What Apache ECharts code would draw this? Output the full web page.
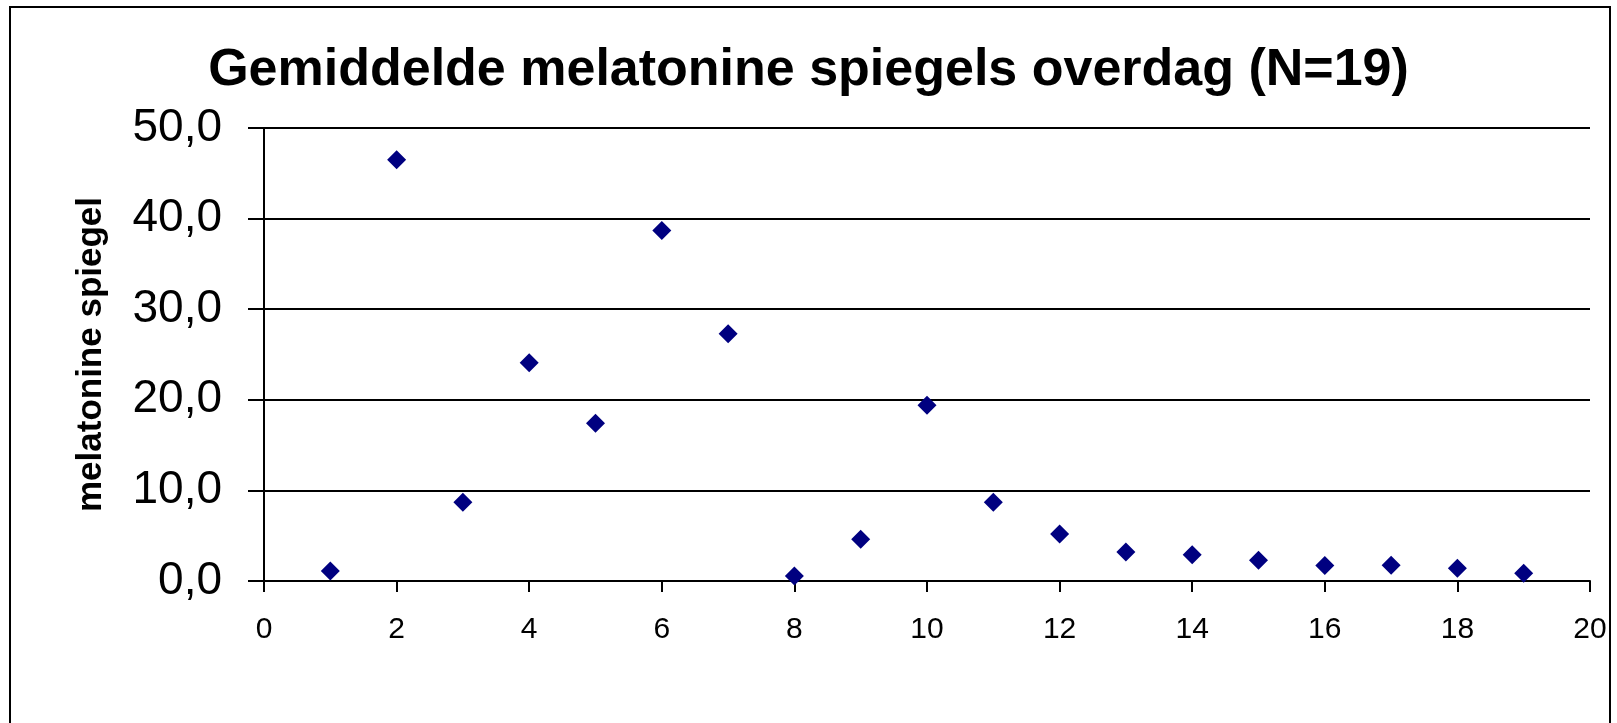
<!DOCTYPE html>
<html>
<head>
<meta charset="utf-8">
<script src="https://cdn.jsdelivr.net/npm/echarts@6/dist/echarts.min.js"></script>
<style>
html,body{margin:0;padding:0;background:#fff;}
#chart{width:1617px;height:723px;}
</style>
</head>
<body>
<div id="chart"></div>
<script>
var titleText = 'Gemiddelde melatonine spiegels overdag (N=19)';
var yAxisName = 'melatonine spiegel';
var xValues = [1, 2, 3, 4, 5, 6, 7, 8, 9, 10, 11, 12, 13, 14, 15, 16, 17, 18, 19];
var yValues = [1.1, 46.5, 8.7, 24.1, 17.4, 38.7, 27.3, 0.55, 4.6, 19.4, 8.7, 5.2, 3.2, 2.9, 2.3, 1.7, 1.75, 1.4, 0.85];
var xMin = 0, xMax = 20, xStep = 2;
var yMin = 0, yMax = 50, yStep = 10;

var points = xValues.map(function (x, i) { return [x, yValues[i]]; });
var font = '"Liberation Sans", Arial, sans-serif';

var chart = echarts.init(document.getElementById('chart'));
chart.setOption({
  animation: false,
  backgroundColor: '#ffffff',
  title: {
    text: titleText,
    left: 'center',
    top: 40,
    textStyle: { fontFamily: font, fontSize: 52, fontWeight: 'bold', color: '#000' }
  },
  graphic: [{
    type: 'rect',
    shape: { x: 10, y: 7, width: 1600, height: 740 },
    style: { fill: 'none', stroke: '#000', lineWidth: 2 },
    silent: true
  }],
  grid: { left: 264, right: 27, top: 128, bottom: 142, containLabel: false },
  xAxis: {
    type: 'value',
    min: xMin, max: xMax, interval: xStep,
    axisLine: { show: true, lineStyle: { color: '#000', width: 2 } },
    axisTick: { show: true, length: 11, lineStyle: { color: '#000', width: 2 } },
    axisLabel: { margin: 34, fontFamily: font, fontSize: 30, color: '#000' },
    splitLine: { show: false }
  },
  yAxis: {
    type: 'value',
    min: yMin, max: yMax, interval: yStep,
    name: yAxisName,
    nameLocation: 'middle',
    nameGap: 155,
    nameRotate: 90,
    nameTextStyle: { fontFamily: font, fontSize: 35, fontWeight: 'bold', color: '#000' },
    axisLine: { show: true, lineStyle: { color: '#000', width: 2 } },
    axisTick: { show: true, length: 16, lineStyle: { color: '#000', width: 2 } },
    axisLabel: {
      margin: 42, fontFamily: font, fontSize: 46, color: '#000',
      formatter: function (v) { return v.toFixed(1).replace('.', ','); }
    },
    splitLine: { show: true, lineStyle: { color: '#000', width: 2 } }
  },
  series: [{
    type: 'scatter',
    data: points,
    symbol: 'diamond',
    symbolSize: [19, 19],
    itemStyle: { color: '#000080', opacity: 1 }
  }]
});
</script>
</body>
</html>
